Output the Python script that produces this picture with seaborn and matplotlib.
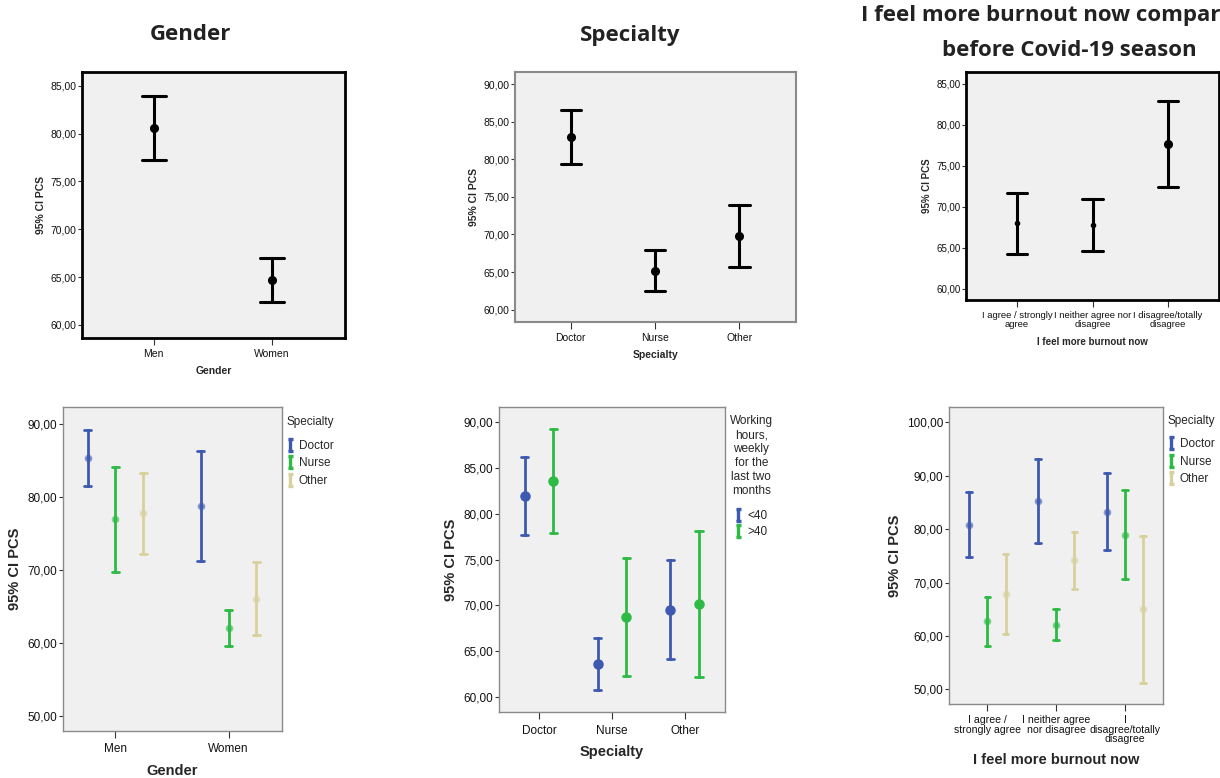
import numpy as np
import pandas as pd
import matplotlib
matplotlib.use("Agg")
import matplotlib.pyplot as plt
import seaborn as sns
from matplotlib.path import Path
from matplotlib.lines import Line2D
from matplotlib.ticker import MultipleLocator, FuncFormatter
from matplotlib import font_manager

sns.set_theme(style="ticks")
plt.rcParams['font.family'] = ['Liberation Sans', 'DejaVu Sans']

# ---------------- data ----------------
gender_cats = ["Men", "Women"]
gender_mean = [80.55, 64.70]
gender_lo = [77.27, 62.37]
gender_hi = [83.92, 67.00]

spec_cats = ["Doctor", "Nurse", "Other"]
spec_mean = [82.93, 65.15, 69.78]
spec_lo = [79.37, 62.44, 65.60]
spec_hi = [86.48, 67.87, 73.95]

burn_cats = ["I agree / strongly\nagree", "I neither agree nor\ndisagree", "I disagree/totally\ndisagree"]
burn_mean = [67.99, 67.78, 77.63]
burn_lo = [64.30, 64.59, 72.36]
burn_hi = [71.67, 70.94, 82.89]

# Gender x Specialty
gs_hues = ["Doctor", "Nurse", "Other"]
gs_mean = {"Doctor": [85.29, 78.75], "Nurse": [76.93, 61.97], "Other": [77.70, 66.00]}
gs_lo = {"Doctor": [81.40, 71.21], "Nurse": [69.74, 59.50], "Other": [72.21, 61.02]}
gs_hi = {"Doctor": [89.18, 86.25], "Nurse": [84.10, 64.49], "Other": [83.28, 71.03]}

# Specialty x Working hours
wh_hues = ["<40", ">40"]
wh_mean = {"<40": [81.94, 63.60, 69.56], ">40": [83.65, 68.72, 70.14]}
wh_lo = {"<40": [77.67, 60.72, 64.20], ">40": [77.95, 62.33, 62.22]}
wh_hi = {"<40": [86.21, 66.50, 74.96], ">40": [89.34, 75.15, 78.10]}

# Burnout x Specialty
bs_cats = ["I agree /\nstrongly agree", "I neither agree\nnor disagree", "I\ndisagree/totally\ndisagree"]
bs_hues = ["Doctor", "Nurse", "Other"]
bs_mean = {"Doctor": [80.82, 85.32, 83.31], "Nurse": [62.76, 62.13, 78.94], "Other": [67.82, 74.20, 65.00]}
bs_lo = {"Doctor": [74.82, 77.38, 76.19], "Nurse": [58.19, 59.19, 70.63], "Other": [60.32, 68.88, 51.25]}
bs_hi = {"Doctor": [86.95, 93.19, 90.51], "Nurse": [67.26, 65.13, 87.32], "Other": [75.32, 79.56, 78.76]}

spec_colors = ["#3D5AB0", "#2DBA45", "#D8D19E"]
wh_colors = ["#3D5AB0", "#2DBA45"]

# ---------------- helpers ----------------
W, H = 1220, 778
fig = plt.figure(figsize=(W / 100, H / 100), dpi=100)
fig.patch.set_facecolor("white")

installed = {f.name for f in font_manager.fontManager.ttflist}
narrow = ["Liberation Sans Narrow", "Liberation Sans"] if "Liberation Sans Narrow" in installed else ["Liberation Sans"]


def rect(x0, y0, x1, y1):
    return [x0 / W, 1 - y1 / H, (x1 - x0) / W, (y1 - y0) / H]


def single_df(cats, mean, lo, hi):
    rows = []
    for c, m, l, h in zip(cats, mean, lo, hi):
        for v in (l, m, h):
            rows.append({"cat": c, "val": v})
    return pd.DataFrame(rows)


def hue_df(cats, hues, mean, lo, hi):
    rows = []
    for hname in hues:
        for c, m, l, h in zip(cats, mean[hname], lo[hname], hi[hname]):
            for v in (l, m, h):
                rows.append({"cat": c, "hue": hname, "val": v})
    return pd.DataFrame(rows)


fmt = FuncFormatter(lambda v, p: f"{v:.2f}".replace(".", ","))
ibeam = Path([(-0.45, 1), (0.45, 1), (0, 1), (0, -1), (-0.45, -1), (0.45, -1)],
             [Path.MOVETO, Path.LINETO, Path.MOVETO, Path.LINETO, Path.MOVETO, Path.LINETO])


def style_axes(ax, ylim, step, xlim, spine_color, spine_w, tick_fs, label_fs, xlabel,
               ylabel_pad=3, xlabel_pad=6, xpad=4):
    ax.set_facecolor("#F0F0F0")
    ax.set_ylim(*ylim)
    ax.set_xlim(*xlim)
    ax.yaxis.set_major_locator(MultipleLocator(step))
    ax.yaxis.set_major_formatter(fmt)
    for s in ax.spines.values():
        s.set_visible(True)
        s.set_color(spine_color)
        s.set_linewidth(spine_w)
    ax.tick_params(axis="y", length=3, width=0.8, color="#333333", labelsize=tick_fs, pad=1, labelcolor="#111111")
    ax.tick_params(axis="x", length=5, width=0.8, color="#333333", labelsize=tick_fs, pad=xpad, labelcolor="#111111")
    ax.set_ylabel("95% CI PCS", fontsize=label_fs, fontweight="bold", labelpad=ylabel_pad)
    ax.set_xlabel(xlabel, fontsize=label_fs, fontweight="bold", labelpad=xlabel_pad)
    ax.grid(False)


def make_legend(ax, colors, labels, title, align, title_sep, fs=8.5, spacing=0.45, title_ls=1.05):
    hs = [Line2D([], [], marker=ibeam, linestyle="none", color=c, markerfacecolor="none",
                 markersize=8, markeredgewidth=2.4) for c in colors]
    leg = ax.legend(hs, labels, title=title, loc="upper left", bbox_to_anchor=(1.0, 0.988),
                    frameon=False, fontsize=fs, title_fontsize=fs, handlelength=0.5,
                    handletextpad=0.5, labelspacing=spacing, borderaxespad=0.15,
                    alignment=align, borderpad=0.25)
    leg._legend_box.sep = title_sep
    leg.get_title().set_multialignment("center")
    leg.get_title().set_linespacing(title_ls)
    return leg


# ---------------- top-left: Gender ----------------
ax1 = fig.add_axes(rect(82, 72, 345, 338))
sns.pointplot(data=single_df(gender_cats, gender_mean, gender_lo, gender_hi), x="cat", y="val",
              order=gender_cats, estimator="median", errorbar=("pi", 100), color="black",
              linestyle="none", marker="o", markersize=4.5, capsize=0.2,
              err_kws={"linewidth": 2.2}, ax=ax1)
style_axes(ax1, (58.64, 86.43), 5, (-0.606, 1.617), "black", 2.0, 7.5, 7.5, "Gender",
           xlabel_pad=5, xpad=3)
fig.text(190 / W, 1 - 35 / H, "Gender", ha="center", va="center", fontsize=16,
         fontweight="bold", family="Open Sans", color="#222222")

# ---------------- top-middle: Specialty ----------------
ax2 = fig.add_axes(rect(515, 72, 796, 322))
sns.pointplot(data=single_df(spec_cats, spec_mean, spec_lo, spec_hi), x="cat", y="val",
              order=spec_cats, estimator="median", errorbar=("pi", 100), color="black",
              linestyle="none", marker="o", markersize=4.5, capsize=0.24,
              err_kws={"linewidth": 2.2}, ax=ax2)
style_axes(ax2, (58.35, 91.6), 5, (-0.66, 2.67), "#8A8A8A", 1.5, 7.5, 7.5, "Specialty",
           xlabel_pad=5, xpad=3)
fig.text(630 / W, 1 - 36 / H, "Specialty", ha="center", va="center", fontsize=16,
         fontweight="bold", family="Open Sans", color="#222222")

# ---------------- top-right: Burnout ----------------
ax3 = fig.add_axes(rect(966, 72, 1219, 300))
sns.pointplot(data=single_df(burn_cats, burn_mean, burn_lo, burn_hi), x="cat", y="val",
              order=burn_cats, estimator="median", errorbar=("pi", 100), color="black",
              linestyle="none", marker="o", markersize=2, capsize=0.27,
              err_kws={"linewidth": 2.2}, ax=ax3)
d3 = single_df(burn_cats, burn_mean, burn_lo, burn_hi)
sns.pointplot(data=d3[d3["cat"] == burn_cats[2]], x="cat", y="val",
              order=burn_cats, estimator="median", errorbar=None, color="black",
              linestyle="none", marker="o", markersize=4.5, ax=ax3)
style_axes(ax3, (58.66, 86.41), 5, (-0.675, 2.675), "black", 2.0, 7, 7, "I feel more burnout now")
ax3.tick_params(axis="x", labelsize=6.8, pad=3)
for t in ax3.get_xticklabels():
    t.set_linespacing(0.95)
fig.text(1069 / W, 1 - 15 / H, "I feel more burnout now compared to", ha="center", va="center",
         fontsize=16, fontweight="bold", family="Open Sans", color="#222222")
fig.text(1069 / W, 1 - 50 / H, "before Covid-19 season", ha="center", va="center",
         fontsize=16, fontweight="bold", family="Open Sans", color="#222222")

# ---------------- bottom-left: Gender x Specialty ----------------
ax4 = fig.add_axes(rect(63, 407, 282, 731))
sns.pointplot(data=hue_df(gender_cats, gs_hues, gs_mean, gs_lo, gs_hi), x="cat", y="val", hue="hue",
              order=gender_cats, hue_order=gs_hues, palette=spec_colors, dodge=0.494,
              estimator="median", errorbar=("pi", 100), linestyle="none", marker="o",
              markersize=3.5, alpha=0.55, capsize=0.06,
              err_kws={"linewidth": 2.0, "alpha": 1.0}, legend=False, ax=ax4)
style_axes(ax4, (47.9, 92.29), 10, (-0.464, 1.473), "#8A8A8A", 1.0, 8.5, 10.5, "Gender", ylabel_pad=4)
make_legend(ax4, spec_colors, gs_hues, "Specialty", "left", 9)

# ---------------- bottom-middle: Specialty x Working hours ----------------
ax5 = fig.add_axes(rect(499, 407, 725, 712))
sns.pointplot(data=hue_df(spec_cats, wh_hues, wh_mean, wh_lo, wh_hi), x="cat", y="val", hue="hue",
              order=spec_cats, hue_order=wh_hues, palette=wh_colors, dodge=0.393,
              estimator="median", errorbar=("pi", 100), linestyle="none", marker="o",
              markersize=5.5, capsize=0.1, err_kws={"linewidth": 2.0}, legend=False, ax=ax5)
style_axes(ax5, (58.36, 91.69), 5, (-0.549, 2.553), "#8A8A8A", 1.0, 8.5, 10.5, "Specialty", ylabel_pad=4)
make_legend(ax5, wh_colors, wh_hues, "Working\nhours,\nweekly\nfor the\nlast two\nmonths",
            "center", 9, spacing=0.35, title_ls=1.22)

# ---------------- bottom-right: Burnout x Specialty ----------------
ax6 = fig.add_axes(rect(949, 407, 1163, 704))
sns.pointplot(data=hue_df(bs_cats, bs_hues, bs_mean, bs_lo, bs_hi), x="cat", y="val", hue="hue",
              order=bs_cats, hue_order=bs_hues, palette=spec_colors, dodge=0.53,
              estimator="median", errorbar=("pi", 100), linestyle="none", marker="o",
              markersize=3.5, alpha=0.55, capsize=0.08,
              err_kws={"linewidth": 2.0, "alpha": 1.0}, legend=False, ax=ax6)
style_axes(ax6, (47.25, 102.89), 10, (-0.558, 2.552), "#8A8A8A", 1.0, 8.5, 10.5,
           "I feel more burnout now", ylabel_pad=4)
ax6.tick_params(axis="x", pad=3)
for t in ax6.get_xticklabels():
    t.set_family(narrow)
    t.set_fontsize(8.3 if len(narrow) == 2 else 7.6)
    t.set_linespacing(0.95)
make_legend(ax6, spec_colors, bs_hues, "Specialty", "left", 8)

fig.savefig("out.png", dpi=100)
